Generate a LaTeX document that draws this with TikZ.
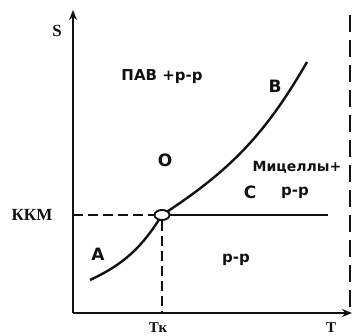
\documentclass[tikz,border=0pt]{standalone}
\usepackage{fontspec}
\setmainfont{DejaVu Sans}
\newfontfamily\axisfont{Liberation Serif}
\usetikzlibrary{arrows.meta,shapes.geometric}
\definecolor{ink}{HTML}{111111}

\begin{document}
\begin{tikzpicture}[x=1pt,y=1pt,
    axis/.style={ink,line width=2.6pt,-{Stealth[length=10pt,width=8pt]}},
    guide/.style={ink,line width=1.9pt,dash pattern=on 10pt off 5pt},
    curve/.style={ink,line width=2.4pt},
    region/.style={ink,font=\fontsize{15}{15}\selectfont\bfseries},
    letter/.style={ink,font=\fontsize{17}{17}\selectfont\bfseries},
    axlabel/.style={ink,font=\fontsize{17}{17}\axisfont\bfseries}]
    \useasboundingbox (0,0) rectangle (353,335);
    % axes
    \coordinate (orig) at (73,22);
    \coordinate (stop) at (73,325);
    \coordinate (tend) at (352,22);
    \draw[axis] (orig) -- (stop);
    \draw[axis] (orig) -- (tend);
    \node[axlabel] (s) at (57,304) {S};
    \node[axlabel,font=\fontsize{15}{15}\axisfont\bfseries,anchor=north] (t) at (331,16) {T};
    % solubility curve and cmc line
    \coordinate (o) at (162,120);
    \coordinate (a0) at (90,55);
    \coordinate (b1) at (307,273);
    \coordinate (c1) at (328,120);
    \draw[curve] (a0) to[out=25,in=238] (o);
    \draw[curve] (o) to[out=33,in=240] (b1);
    \draw[curve] (o) -- (c1);
    \node[draw=ink,fill=white,ellipse,line width=1.9pt,inner sep=0pt,
      minimum width=15pt,minimum height=10pt] (O) at (o) {};
    % guide lines
    \coordinate (kk) at (73,120);
    \coordinate (tk) at (162,22);
    \draw[guide] (kk) -- (O.west);
    \draw[guide] (O.south) -- (tk);
    \node[axlabel] (kkm) at (32,120) {ККМ};
    \node[axlabel,font=\fontsize{15}{15}\axisfont\bfseries,anchor=north] (tklab) at (158,16) {Тк};
    % right border, dashed
    \coordinate (r1) at (350,320);
    \coordinate (r2) at (350,28);
    \draw[ink,line width=2.4pt,dash pattern=on 17pt off 8pt] (r1) -- (r2);
    % regions
    \node[region] (pav) at (162,258) {ПАВ +р-р};
    \node[letter] (B) at (275,249) {B};
    \node[letter] (Ol) at (165,175) {O};
    \node[region,font=\fontsize{14}{14}\selectfont\bfseries] (mic) at (297,168) {Мицеллы+};
    \node[letter] (C) at (250,143) {C};
    \node[region] (rr1) at (295,142) {р-р};
    \node[letter] (A) at (98,81) {A};
    \node[region] (rr2) at (236,75) {р-р};
\end{tikzpicture}
\end{document}
